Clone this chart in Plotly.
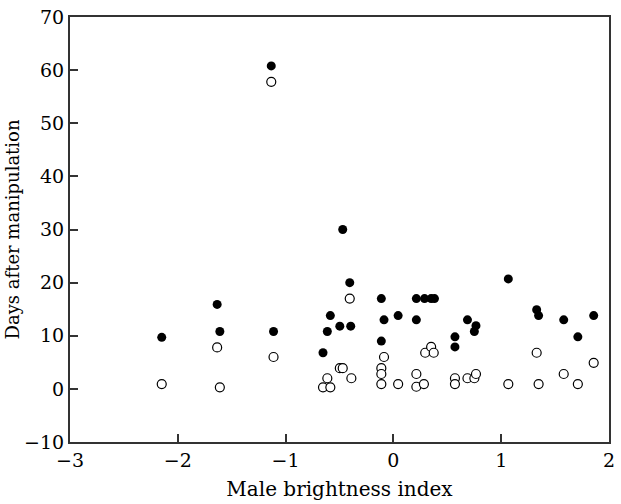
import plotly.graph_objects as go

filled_x = [-2.149, -1.635, -1.61, -1.133, -1.112, -0.653, -0.613, -0.585, -0.497, -0.47, -0.405, -0.396,
            -0.112, -0.087, -0.112, 0.044, 0.213, 0.289, 0.350, 0.381, 0.213, 0.571, 0.571, 0.687, 0.766,
            0.751, 1.066, 1.329, 1.347, 1.58, 1.711, 1.858]
filled_y = [9.7, 15.9, 10.8, 60.8, 10.8, 6.8, 10.8, 13.8, 11.8, 30.0, 20.0, 11.8,
            17.0, 13.0, 9.0, 13.8, 17.0, 17.0, 17.0, 17.0, 13.0, 9.8, 7.9, 13.0, 11.9,
            10.8, 20.7, 14.9, 13.8, 13.0, 9.8, 13.8]

open_x = [-2.149, -1.635, -1.61, -1.133, -1.112, -0.653, -0.613, -0.585, -0.497, -0.47, -0.405, -0.39,
          -0.112, -0.112, -0.112, -0.087, 0.044, 0.213, 0.213, 0.283, 0.295, 0.35, 0.374, 0.571, 0.571,
          0.687, 0.751, 0.766, 1.066, 1.329, 1.347, 1.58, 1.711, 1.858]
open_y = [0.9, 7.8, 0.3, 57.8, 6.0, 0.3, 2.0, 0.3, 3.9, 3.9, 17.0, 2.0,
          3.9, 2.8, 0.9, 6.0, 0.9, 2.8, 0.4, 0.9, 6.8, 7.9, 6.8, 2.0, 0.9,
          2.0, 2.0, 2.8, 0.9, 6.8, 0.9, 2.8, 0.9, 4.9]

x_ticks = [-3, -2, -1, 0, 1, 2]
x_labels = ["\u22123", "\u22122", "\u22121", "0", "1", "2"]
y_ticks = [-10, 0, 10, 20, 30, 40, 50, 60, 70]
y_labels = ["\u221210", "0", "10", "20", "30", "40", "50", "60", "70"]

fig = go.Figure()
fig.add_trace(go.Scatter(x=open_x, y=open_y, mode="markers",
                         marker=dict(size=9, color="white", line=dict(color="black", width=1.2)),
                         showlegend=False))
fig.add_trace(go.Scatter(x=filled_x, y=filled_y, mode="markers",
                         marker=dict(size=9, color="black", line=dict(color="black", width=0)),
                         showlegend=False))

FAM = "DejaVu Serif, serif"
axis_common = dict(showgrid=False, zeroline=False, showline=True, linecolor="#333", linewidth=2,
                   mirror=True, ticks="inside", ticklen=8, tickwidth=1.5, tickcolor="#333")
fig.update_xaxes(range=[-3, 2], tickvals=x_ticks, ticktext=x_labels,
                 tickfont=dict(family=FAM, size=19, color="black"),
                 title=dict(text="Male brightness index", font=dict(family=FAM, size=20, color="black"), standoff=12),
                 **axis_common)
fig.update_yaxes(range=[-10, 70], tickvals=y_ticks, ticktext=y_labels,
                 tickfont=dict(family=FAM, size=19, color="black"),
                 title=dict(text="Days after manipulation", font=dict(family=FAM, size=18, color="black"), standoff=0),
                 **axis_common)
fig.update_layout(width=621, height=504, margin=dict(l=70, r=6, t=17, b=62),
                  plot_bgcolor="white", paper_bgcolor="white",
                  font=dict(family=FAM, size=19, color="black"))
fig.write_html("out.html")
